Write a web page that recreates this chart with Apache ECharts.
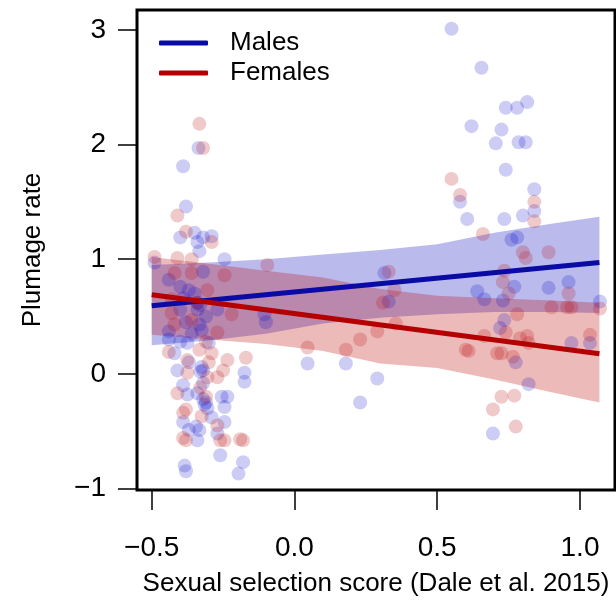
<!DOCTYPE html>
<html>
<head>
<meta charset="utf-8">
<script src="https://cdn.jsdelivr.net/npm/echarts@6/dist/echarts.min.js"></script>
<style>
  html, body { margin: 0; padding: 0; background: #fff; }
  #chart { width: 616px; height: 604px; }
</style>
</head>
<body>
<div id="chart"></div>
<script>
// tick labels
var xTicks = [-0.5, 0, 0.5, 1.0];
var yTicks = [-1, 0, 1, 2, 3];

// regression lines (start / end)
var maleLine = [[-0.5, 0.594], [1.068, 0.97]];
var femaleLine = [[-0.5, 0.69], [1.068, 0.175]];

// credible bands
var bandX = [-0.5, -0.3, -0.1, 0.1, 0.3, 0.5, 0.7, 0.9, 1.068];
var maleUpper = [0.95, 0.97, 1.00, 1.04, 1.08, 1.13, 1.23, 1.31, 1.37];
var maleLower = [0.25, 0.29, 0.35, 0.44, 0.49, 0.52, 0.54, 0.54, 0.53];
var femaleUpper = [1.02, 0.96, 0.90, 0.84, 0.74, 0.68, 0.66, 0.64, 0.62];
var femaleLower = [0.34, 0.30, 0.26, 0.20, 0.09, 0.05, -0.05, -0.16, -0.25];

// species points
var malePoints = [
  [-0.336, 1.97], [-0.39, 1.81], [-0.38, 1.46], [-0.40, 1.19], [-0.35, 1.23], [-0.32, 1.19],
  [-0.29, 1.20], [-0.34, 1.15], [-0.333, 1.07], [-0.49, 0.97], [-0.245, 1.0],
  [-0.40, 0.76], [-0.44, 0.82], [-0.32, 0.89], [-0.37, 0.73], [-0.39, 0.66], [-0.40, 0.56],
  [-0.34, 0.56], [-0.27, 0.56], [-0.38, 0.45], [-0.333, 0.43], [-0.325, 0.38], [-0.44, 0.37],
  [-0.44, 0.30], [-0.40, 0.28], [-0.375, 0.27], [-0.30, 0.27], [-0.42, 0.18], [-0.37, 0.10],
  [-0.41, 0.03], [-0.325, 0.06], [-0.32, 0.03], [-0.175, 0.01], [-0.175, -0.07], [-0.39, -0.10],
  [-0.32, -0.08], [-0.375, -0.18], [-0.34, -0.17], [-0.255, -0.20], [-0.235, -0.20], [-0.245, -0.29],
  [-0.315, -0.27], [-0.305, -0.30], [-0.39, -0.42], [-0.29, -0.38], [-0.245, -0.42], [-0.345, -0.46],
  [-0.333, -0.49], [-0.37, -0.49], [-0.27, -0.52], [-0.34, -0.58], [-0.26, -0.71], [-0.385, -0.80],
  [-0.38, -0.85], [-0.18, -0.77], [-0.196, -0.87], [-0.105, 0.52], [-0.10, 0.45],
  [-0.34, 0.62], [-0.33, 0.60], [-0.35, 0.70], [-0.31, 0.50], [-0.33, 0.02], [-0.32, -0.22],
  [-0.31, -0.25], [-0.36, 0.35],
  [0.046, 0.09], [0.18, 0.09], [0.29, -0.04], [0.23, -0.25], [0.315, 0.88], [0.33, 0.63],
  [0.55, 3.01], [0.655, 2.67], [0.74, 2.32], [0.78, 2.32], [0.815, 2.37], [0.62, 2.16],
  [0.725, 2.13], [0.705, 2.01], [0.785, 2.02], [0.81, 2.02], [0.74, 1.78], [0.58, 1.50],
  [0.84, 1.61], [0.84, 1.42], [0.605, 1.35], [0.735, 1.35], [0.80, 1.38], [0.76, 1.17],
  [0.78, 1.19], [0.64, 0.72], [0.665, 0.65], [0.77, 0.76], [0.73, 0.64], [0.89, 0.75],
  [0.96, 0.80], [1.07, 0.63], [0.775, 0.10], [1.035, 0.27], [0.97, 0.27], [0.82, -0.09],
  [0.695, -0.52], [0.735, 0.47], [0.72, 0.40]
];
var femalePoints = [
  [-0.333, 2.18], [-0.32, 1.97], [-0.41, 1.38], [-0.38, 1.24], [-0.29, 1.15], [-0.49, 1.02],
  [-0.41, 1.01], [-0.36, 1.0], [-0.095, 0.95],
  [-0.42, 0.88], [-0.36, 0.88], [-0.245, 0.86], [-0.305, 0.73], [-0.43, 0.65], [-0.43, 0.53],
  [-0.22, 0.52], [-0.42, 0.43], [-0.27, 0.36], [-0.31, 0.28], [-0.44, 0.19], [-0.333, 0.21],
  [-0.29, 0.18], [-0.375, 0.12], [-0.235, 0.12], [-0.17, 0.14], [-0.375, 0.01], [-0.25, 0.03],
  [-0.27, -0.03], [-0.305, -0.03], [-0.41, -0.17], [-0.31, -0.20], [-0.38, -0.31], [-0.39, -0.34],
  [-0.325, -0.37], [-0.27, -0.45], [-0.39, -0.56], [-0.38, -0.58], [-0.26, -0.58], [-0.245, -0.58],
  [-0.19, -0.57], [-0.18, -0.58], [-0.34, 0.62], [-0.36, 0.47], [-0.30, 0.10], [-0.33, -0.12],
  [0.046, 0.23], [0.18, 0.21], [0.23, 0.30], [0.29, 0.37], [0.33, 0.89], [0.35, 0.73],
  [0.31, 0.62], [0.355, 0.44],
  [0.55, 1.70], [0.58, 1.56], [0.84, 1.50], [0.84, 1.33], [0.66, 1.22], [0.80, 1.06],
  [0.81, 1.01], [0.89, 1.06], [0.735, 0.90], [0.73, 0.80], [0.75, 0.70], [0.96, 0.70],
  [0.90, 0.58], [0.955, 0.58], [0.97, 0.58], [1.07, 0.57], [0.78, 0.52], [0.665, 0.33],
  [0.74, 0.36], [0.79, 0.31], [0.815, 0.33], [0.82, 0.27], [0.61, 0.20], [0.60, 0.21],
  [0.71, 0.18], [0.725, 0.18], [0.765, 0.15], [1.035, 0.34], [0.725, -0.20], [0.77, -0.19],
  [0.695, -0.31], [0.775, -0.46]
];

var FONT = '"Liberation Sans", Arial, Helvetica, sans-serif';

function fmt(v, digits) {
  var s = Math.abs(v).toFixed(digits);
  return v < 0 ? '\u2212' + s : s;
}

function bandSeries(upper, lower, color) {
  return {
    type: 'custom',
    silent: true,
    z: 1,
    data: [[bandX[0], upper[0]]],
    renderItem: function (params, api) {
      var pts = [];
      for (var i = 0; i < bandX.length; i++) {
        pts.push(api.coord([bandX[i], upper[i]]));
      }
      for (var j = bandX.length - 1; j >= 0; j--) {
        pts.push(api.coord([bandX[j], lower[j]]));
      }
      return { type: 'polygon', shape: { points: pts }, style: { fill: color } };
    }
  };
}

var chart = echarts.init(document.getElementById('chart'), null, { renderer: 'canvas' });
chart.setOption({
  animation: false,
  backgroundColor: '#fff',
  textStyle: { fontFamily: FONT, color: '#000' },
  grid: {
    left: 137, top: 10, right: 1, bottom: 114,
    show: true, borderColor: '#000', borderWidth: 3, backgroundColor: 'transparent'
  },
  legend: {
    orient: 'vertical',
    left: 159, top: 30, padding: 0,
    itemWidth: 49, itemHeight: 5, itemGap: 4,
    icon: 'roundRect',
    textStyle: { fontFamily: FONT, fontSize: 26, color: '#000', padding: [0, 0, 0, 17] },
    data: ['Males', 'Females']
  },
  xAxis: {
    type: 'value',
    min: -0.5515, max: 1.1226,
    splitLine: { show: false },
    axisLine: { show: false, onZero: false },
    axisTick: { show: true, inside: false, length: 20, customValues: xTicks, lineStyle: { color: '#000', width: 1.5 } },
    axisLabel: { customValues: xTicks, margin: 44, fontSize: 28, color: '#000', fontFamily: FONT,
      formatter: function (v) { return fmt(v, 1); } },
    name: 'Sexual selection score (Dale et al. 2015)',
    nameLocation: 'middle', nameGap: 81,
    nameTextStyle: { fontSize: 26, color: '#000', fontFamily: FONT }
  },
  yAxis: {
    type: 'value',
    min: -1.013, max: 3.173,
    splitLine: { show: false },
    axisLine: { show: false, onZero: false },
    axisTick: { show: true, inside: false, length: 19, customValues: yTicks, lineStyle: { color: '#000', width: 1.5 } },
    axisLabel: { customValues: yTicks, margin: 31, fontSize: 28, color: '#000', fontFamily: FONT,
      formatter: function (v) { return fmt(v, 0); } },
    name: 'Plumage rate',
    nameLocation: 'middle', nameGap: 91, nameRotate: 90,
    nameTextStyle: { fontSize: 26, color: '#000', fontFamily: FONT }
  },
  series: [
    bandSeries(maleUpper, maleLower, 'rgba(0,0,190,0.27)'),
    bandSeries(femaleUpper, femaleLower, 'rgba(190,0,0,0.27)'),
    {
      name: 'Males points', type: 'scatter', z: 2, symbolSize: 14, silent: true,
      itemStyle: { color: 'rgba(0,0,200,0.25)' },
      data: malePoints
    },
    {
      name: 'Females points', type: 'scatter', z: 2, symbolSize: 14, silent: true,
      itemStyle: { color: 'rgba(190,20,20,0.28)' },
      data: femalePoints
    },
    {
      name: 'Males', type: 'line', z: 3, showSymbol: false, symbol: 'none',
      color: '#0a0aa5', lineStyle: { color: '#0a0aa5', width: 5 },
      data: maleLine
    },
    {
      name: 'Females', type: 'line', z: 3, showSymbol: false, symbol: 'none',
      color: '#b40000', lineStyle: { color: '#b40000', width: 5 },
      data: femaleLine
    }
  ]
});
</script>
</body>
</html>
